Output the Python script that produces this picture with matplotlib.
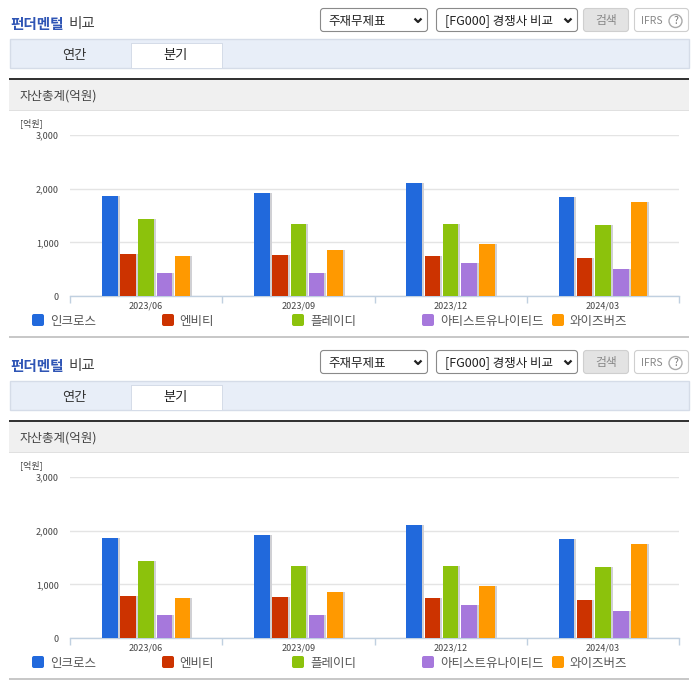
import matplotlib
matplotlib.use("Agg")
import matplotlib.pyplot as plt
from matplotlib.patches import Rectangle, FancyBboxPatch, Circle
from matplotlib.transforms import ScaledTranslation
import numpy as np

plt.rcParams['font.family'] = ['Noto Sans CJK KR', 'DejaVu Sans']

quarters = ["2023/06", "2023/09", "2023/12", "2024/03"]
incross = [1870, 1920, 2110, 1840]
nbt = [780, 760, 740, 710]
playd = [1430, 1340, 1340, 1320]
artist = [420, 420, 610, 500]
wisebirds = [740, 860, 970, 1750]
names = ["인크로스", "엔비티", "플레이디", "아티스트유나이티드", "와이즈버즈"]
colors = ["#2169dc", "#cc3300", "#8cc20c", "#a678dc", "#ff9900"]
series = [incross, nbt, playd, artist, wisebirds]
yticks = [0, 1000, 2000, 3000]
legend_sq = [32, 162, 292, 422, 552]
legend_tx = [50, 179.5, 310, 440, 570]

W, H = 696, 684
fig = plt.figure(figsize=(W / 100, H / 100), dpi=100, facecolor="white")
bg = fig.add_axes([0, 0, 1, 1])
bg.set_xlim(0, W)
bg.set_ylim(H, 0)
bg.axis("off")


def rect(x0, y0, x1, y1, fc, ec="none", lw=0.0, z=1):
    bg.add_patch(Rectangle((x0, y0), x1 - x0, y1 - y0, fc=fc, ec=ec, lw=lw, zorder=z))


def rbox(x0, y0, x1, y1, fc, ec, z=2):
    bg.add_patch(FancyBboxPatch((x0 + 2.5, y0 + 2.5), x1 - x0 - 5, y1 - y0 - 5,
                                boxstyle="round,pad=2,rounding_size=3",
                                fc=fc, ec=ec, lw=0.8, zorder=z))


def chevron(x, y):
    bg.plot([x - 3.5, x, x + 3.5], [y - 2, y + 1.5, y - 2], color="#222222", lw=1.6, zorder=4,
            solid_capstyle="butt")


def panel(dy):
    bg.text(10, 24 + dy, "펀더멘털", color="#2f55b5", fontsize=10.5, fontweight="bold", va="center", ha="left", zorder=5)
    bg.text(69, 24 + dy, "비교", color="#444444", fontsize=10.5, fontweight="medium", va="center", ha="left", zorder=5)
    rbox(320, 8 + dy, 428, 32 + dy, "white", "#8a8a8a")
    bg.text(328, 21 + dy, "주재무제표", color="#222222", fontsize=9, va="center", zorder=5)
    chevron(418, 20.5 + dy)
    rbox(436, 8 + dy, 578, 32 + dy, "white", "#8a8a8a")
    bg.text(445, 21 + dy, "[FG000] 경쟁사 비교", color="#222222", fontsize=9, va="center", zorder=5)
    chevron(568, 20.5 + dy)
    rbox(583, 8 + dy, 629, 32 + dy, "#e3e3e3", "#cfcfcf")
    bg.text(606, 20.5 + dy, "검색", color="#888888", fontsize=8.5, va="center", ha="center", zorder=5)
    rbox(634, 8 + dy, 689, 32 + dy, "white", "#cfcfcf")
    bg.text(641, 21 + dy, "IFRS", color="#888888", fontsize=7.5, va="center", zorder=5)
    bg.add_patch(Circle((675.5, 21 + dy), 6.5, fc="white", ec="#aaaaaa", lw=1, zorder=5))
    bg.text(675.5, 21 + dy, "?", color="#777777", fontsize=7.5, va="center", ha="center", zorder=6)

    rect(9.5, 38.5 + dy, 688.5, 67.5 + dy, "#e8eef8", "#d5dce8", 1)
    rect(131, 43 + dy, 223, 68 + dy, "#d5dce8", z=2)
    rect(132, 44 + dy, 222, 68 + dy, "white", z=3)
    bg.text(74, 55 + dy, "연간", color="#333333", fontsize=9.5, va="center", ha="center", zorder=5)
    bg.text(176, 55 + dy, "분기", color="#222222", fontsize=9.5, va="center", ha="center", zorder=5)

    rect(9, 80 + dy, 689, 110.5 + dy, "#f0f0f0")
    rect(9, 78 + dy, 689, 80 + dy, "#333333", z=2)
    rect(9, 110 + dy, 689, 111 + dy, "#e0e0e0", z=2)
    bg.text(20, 96 + dy, "자산총계(억원)", color="#444444", fontsize=9, va="center", zorder=5)
    bg.text(20, 123 + dy, "[억원]", color="#444444", fontsize=6.5, va="center", zorder=5)

    for sq, tx, name, c in zip(legend_sq, legend_tx, names, colors):
        bg.add_patch(FancyBboxPatch((sq + 1, 315 + dy), 10, 10, boxstyle="round,pad=1,rounding_size=2",
                                    fc=c, ec="none", zorder=5))
        bg.text(tx, 321 + dy, name, color="#555555", fontsize=9, va="center", zorder=5)
    rect(9, 336 + dy, 689, 338 + dy, "#c8c8c8")

    ax = fig.add_axes([70 / W, 1 - (296 + dy) / H, 609 / W, 161 / H])
    ax.patch.set_alpha(0)
    ax.set_xlim(-0.5, 3.5)
    ax.set_ylim(0, 3000)
    x = np.arange(len(quarters))
    pitch, width = 0.1195, 0.102
    shadow = ScaledTranslation(2 / 100, 0, fig.dpi_scale_trans)
    for i, (vals, c) in enumerate(zip(series, colors)):
        pos = x + (i - 2) * pitch
        ax.bar(pos, vals, width, color="#d0d0d4", zorder=2, transform=ax.transData + shadow)
        ax.bar(pos, vals, width, color=c, zorder=3)
    ax.set_yticks(yticks)
    ax.set_yticklabels([f"{v:,}" for v in yticks], fontsize=6.5, color="#444444")
    ax.set_xticks(x)
    ax.set_xticklabels(quarters, fontsize=6.5, color="#444444")
    ax.set_xticks(np.arange(-0.5, 4), minor=True)
    ax.tick_params(axis="x", which="major", length=0, pad=4)
    ax.tick_params(axis="x", which="minor", length=5, color="#c0d0e0", width=1)
    ax.tick_params(axis="y", length=0, pad=8)
    ax.grid(axis="y", color="#e4e4e4", lw=1, zorder=1)
    ax.set_axisbelow(True)
    for s in ["top", "left", "right"]:
        ax.spines[s].set_visible(False)
    ax.spines["bottom"].set_color("#c0d0e0")
    ax.spines["bottom"].set_linewidth(1)


panel(0)
panel(342)
fig.savefig("out.png", dpi=100)
